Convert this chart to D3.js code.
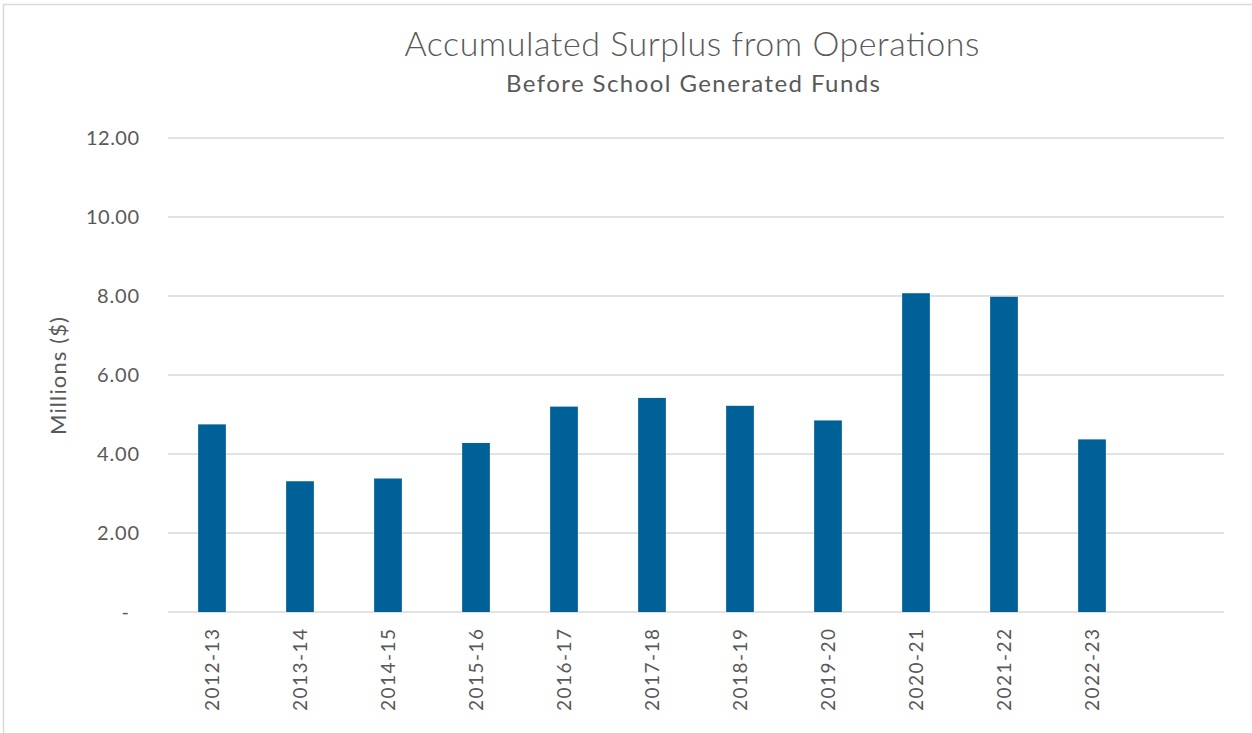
<!DOCTYPE html>
<html>
<head>
<meta charset="utf-8">
<script src="https://cdn.jsdelivr.net/npm/d3@7"></script>
<style>
  body { margin: 0; background: #fff; }
  text { font-family: Lato, "Open Sans", sans-serif; fill: #595959; }
</style>
</head>
<body>
<svg id="chart" width="1252" height="733"></svg>
<script>
// data
var years = ["2012-13", "2013-14", "2014-15", "2015-16", "2016-17", "2017-18",
  "2018-19", "2019-20", "2020-21", "2021-22", "2022-23"]
var surplus = [4.75, 3.31, 3.38, 4.28, 5.20, 5.42, 5.22, 4.85, 8.07, 7.98, 4.37]
var yTicks = [0, 2, 4, 6, 8, 10, 12]

var svg = d3.select("#chart")

// outer frame (only top/left edges are visible in the crop)
svg.append("rect")
  .attr("x", 3.5).attr("y", 4.5)
  .attr("width", 1300).attr("height", 800)
  .attr("fill", "none").attr("stroke", "#d9d9d9").attr("stroke-width", 1.5)

var plotLeft = 168, plotRight = 1224, plotTop = 138, plotBottom = 612

// one empty slot after the last year, as in the original
var slots = years.concat([""])
var x = d3.scaleBand().domain(slots.map(function(d, i) { return i }))
  .range([plotLeft, plotRight]).paddingInner(0.685).paddingOuter(0.3425)
var y = d3.scaleLinear().domain([0, 12]).range([plotBottom, plotTop])

// gridlines
svg.append("g").selectAll("line")
  .data(yTicks)
  .enter().append("line")
  .attr("x1", plotLeft).attr("x2", plotRight)
  .attr("y1", function(d) { return y(d) }).attr("y2", function(d) { return y(d) })
  .attr("stroke", "#d9d9d9").attr("stroke-width", 1.5)

// y tick labels
svg.append("g").selectAll("text")
  .data(yTicks)
  .enter().append("text")
  .attr("x", function(d) { return d === 0 ? 129 : 139 })
  .attr("y", function(d) { return y(d) })
  .attr("dy", "0.35em")
  .attr("text-anchor", "end")
  .attr("textLength", function(d) { return d === 0 ? null : (d >= 10 ? 53 : 42) })
  .style("font-size", "20px")
  .text(function(d) { return d === 0 ? "-" : d3.format(".2f")(d) })

// bars
svg.append("g").selectAll("rect")
  .data(surplus)
  .enter().append("rect")
  .attr("x", function(d, i) { return x(i) })
  .attr("width", x.bandwidth())
  .attr("y", function(d) { return y(d) })
  .attr("height", function(d) { return y(0) - y(d) })
  .attr("fill", "#006098")

// x labels, rotated
svg.append("g").selectAll("text")
  .data(years)
  .enter().append("text")
  .attr("transform", function(d, i) {
    return "translate(" + (x(i) + x.bandwidth() / 2) + ",629) rotate(-90)"
  })
  .attr("dy", "0.35em")
  .attr("text-anchor", "end")
  .attr("textLength", 82)
  .style("font-size", "19px")
  .text(function(d) { return d })

// y axis title
svg.append("text")
  .attr("transform", "translate(58,376) rotate(-90)")
  .attr("dy", "0.35em")
  .attr("text-anchor", "middle")
  .attr("textLength", 118)
  .style("font-size", "22px")
  .text("Millions ($)")

// titles
svg.append("text")
  .attr("x", 692).attr("y", 56)
  .attr("text-anchor", "middle")
  .attr("textLength", 575)
  .style("font-size", "34px").style("font-weight", 300)
  .text("Accumulated Surplus from Operations")

svg.append("text")
  .attr("x", 693).attr("y", 92)
  .attr("text-anchor", "middle")
  .attr("textLength", 374)
  .style("font-size", "24px")
  .text("Before School Generated Funds")
</script>
</body>
</html>
